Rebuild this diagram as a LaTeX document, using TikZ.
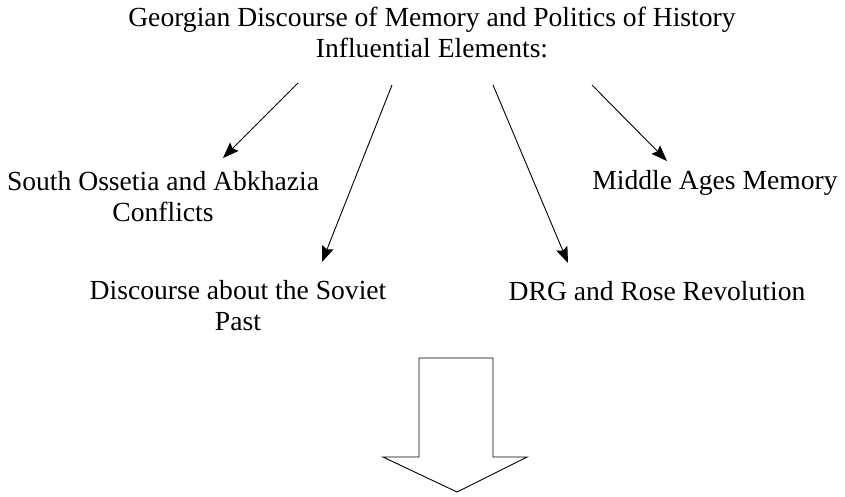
\documentclass[tikz,border=0pt]{standalone}
\usepackage{fontspec}
\setmainfont{Liberation Serif}
\usetikzlibrary{arrows.meta}
\begin{document}
\begin{tikzpicture}[x=1pt,y=-1pt,
  lbl/.style={font=\fontsize{27.6}{31}\selectfont, inner sep=0pt, align=center, anchor=base},
  conn/.style={line width=0.9pt, -{Stealth[length=16pt,width=12pt,inset=2.5pt]}},
  bigarrow/.style={line width=0.9pt, line join=miter}]
\useasboundingbox (0,0) rectangle (845,496);
% for two-line nodes the base anchor sits on the last line
\node[lbl] (title) at (432,57) {Georgian Discourse of Memory and Politics of History\\Influential Elements:};
\node[lbl] (ossetia) at (163,221) {South Ossetia and Abkhazia\\Conflicts};
\node[lbl] (middle) at (715,189) {Middle Ages Memory};
\node[lbl] (soviet) at (238,330) {Discourse about the Soviet\\Past};
\node[lbl] (drg) at (657,300) {DRG and Rose Revolution};
\coordinate (s1) at (298,83);  \coordinate (e1) at (223,158);
\coordinate (s2) at (392,85);  \coordinate (e2) at (322,262);
\coordinate (s3) at (493,85);  \coordinate (e3) at (568,263);
\coordinate (s4) at (592,85);  \coordinate (e4) at (667,161);
\draw[conn] (s1) -- (e1);
\draw[conn] (s2) -- (e2);
\draw[conn] (s3) -- (e3);
\draw[conn] (s4) -- (e4);
\draw[bigarrow] (419,358) -- (493,358) -- (493,457) -- (527,457) -- (457,492) -- (383,457) -- (419,457) -- cycle;
\end{tikzpicture}
\end{document}
